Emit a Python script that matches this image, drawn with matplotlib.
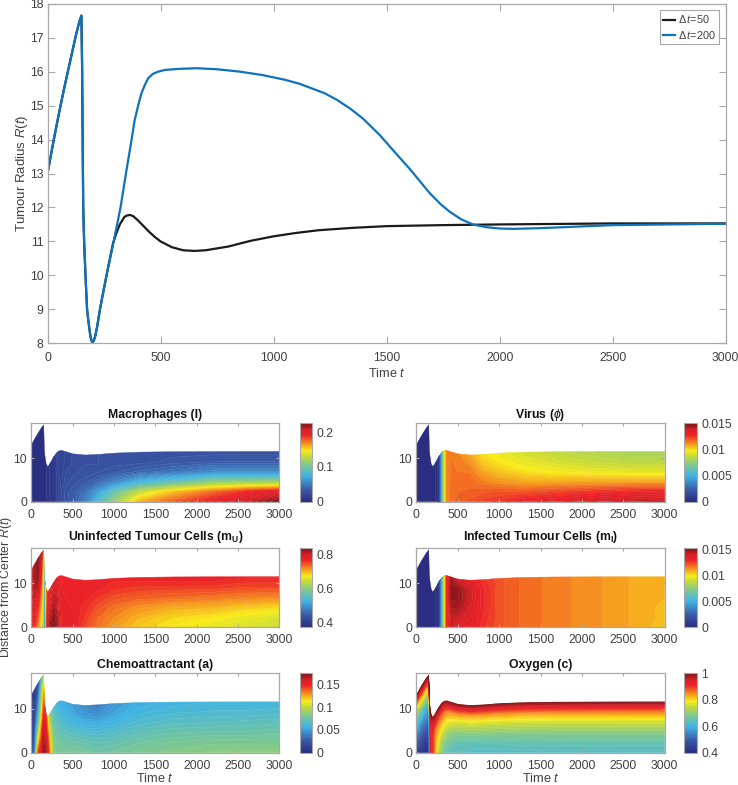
import numpy as np
import matplotlib
matplotlib.use("Agg")
import matplotlib.pyplot as plt
from matplotlib.cm import ScalarMappable
from matplotlib.colors import LinearSegmentedColormap, Normalize

plt.rcParams["font.family"] = ["Liberation Sans", "DejaVu Sans"]
plt.rcParams["mathtext.fontset"] = "custom"
plt.rcParams["mathtext.rm"] = "Liberation Sans"
plt.rcParams["mathtext.it"] = "Liberation Sans:italic"
plt.rcParams["mathtext.bf"] = "Liberation Sans:bold"

# radius curves
t_black = [0, 25, 50, 75, 100, 125, 140, 150, 153, 156, 158, 162, 168, 175, 180, 184, 190, 195, 199, 204, 210, 220, 232, 261, 290,
           305, 320, 340, 350, 365, 380, 400, 425, 450, 475, 500, 550, 600, 650, 700, 800, 900, 1000, 1100, 1200, 1350, 1500, 1750, 2000, 2500, 3000]
r_black = [13.0, 13.9, 14.75, 15.55, 16.3, 17.05, 17.45, 17.65, 16.2, 13.6, 12.0, 11.0, 10.0, 9.0, 8.7, 8.5, 8.2, 8.07, 8.03, 8.07, 8.18, 8.5, 9.0, 10.0, 10.95,
           11.25, 11.5, 11.72, 11.76, 11.78, 11.74, 11.62, 11.45, 11.28, 11.13, 11.0, 10.83, 10.74, 10.72, 10.74, 10.85, 11.02, 11.15, 11.25, 11.33, 11.4, 11.45, 11.48, 11.5, 11.53, 11.53]
t_blue = [0, 25, 50, 75, 100, 125, 140, 150, 153, 156, 158, 162, 168, 175, 180, 184, 190, 195, 199, 204, 210, 220, 232, 261, 293,
          323, 347, 372, 385, 401, 415, 430, 445, 465, 490, 520, 580, 660, 750, 850, 950, 1050, 1116, 1227, 1280, 1337, 1395, 1470, 1540, 1603, 1691, 1740, 1780, 1830, 1882, 1940, 2001, 2060, 2178, 2500, 3000]
r_blue = [13.0, 13.9, 14.75, 15.55, 16.3, 17.05, 17.45, 17.65, 16.2, 13.6, 12.0, 11.0, 10.0, 9.0, 8.7, 8.5, 8.2, 8.07, 8.03, 8.07, 8.18, 8.5, 9.0, 10.0, 11.0,
          12.0, 13.0, 14.0, 14.55, 15.0, 15.35, 15.6, 15.8, 15.93, 16.0, 16.05, 16.08, 16.1, 16.07, 16.0, 15.9, 15.76, 15.64, 15.36, 15.17, 14.92, 14.62, 14.13, 13.6, 13.13, 12.42, 12.09, 11.87, 11.65, 11.5, 11.42, 11.38, 11.37, 11.39, 11.48, 11.52]

# heat map nodes: time and fraction of R(t)
t_grid = [0, 40, 80, 120, 150, 158, 165, 180, 200, 230, 270, 310, 340, 370, 420, 500, 650, 800, 1000, 1300, 1700, 2200, 2600, 3000]
s_grid = [0, 0.2, 0.4, 0.6, 0.8, 1.0]

macro = [[.002] * 6, [.002] * 6, [.002] * 6, [.002] * 6, [.003] * 6, [.003] * 6, [.003] * 6, [.003] * 6,
         [.005] * 6, [.008] * 6, [.01] * 6, [.015] * 6, [.02] * 6,
         [.025, .025, .022, .02, .02, .02],
         [.03, .03, .027, .025, .022, .022],
         [.036, .034, .03, .027, .025, .025],
         [.052, .045, .035, .03, .028, .028],
         [.08, .065, .042, .032, .028, .028],
         [.115, .095, .055, .035, .03, .03],
         [.16, .13, .075, .04, .03, .03],
         [.178, .155, .09, .045, .033, .03],
         [.197, .175, .11, .055, .035, .03],
         [.208, .19, .113, .055, .035, .03],
         [.225, .2, .115, .055, .035, .03]]

virus = [[0] * 6, [0] * 6, [0] * 6, [0] * 6, [0] * 6, [0] * 6, [0] * 6, [0] * 6, [0] * 6, [0] * 6,
         [.0003] * 6, [.005] * 6, [.0095] * 6,
         [.0113] * 6,
         [.0116, .0116, .0115, .0115, .0115, .0114],
         [.0118, .0117, .0116, .0115, .0114, .0113],
         [.012, .0118, .0116, .0115, .0112, .0108],
         [.0123, .0119, .0114, .0109, .0103, .0099],
         [.0125, .012, .0111, .0104, .0098, .0095],
         [.013, .012, .0108, .0099, .0094, .009],
         [.0133, .0122, .0108, .0096, .009, .0085],
         [.0137, .0125, .0108, .0094, .0086, .0082],
         [.014, .0127, .0108, .0093, .0084, .008],
         [.0142, .0128, .0108, .0093, .0084, .008]]

m_u = [[.76, .765, .775, .785, .79, .80],
       [.76, .78, .80, .81, .82, .82],
       [.72, .75, .78, .81, .825, .83],
       [.67, .69, .72, .75, .78, .80],
       [.60, .61, .62, .63, .65, .68],
       [.42, .43, .44, .46, .5, .55],
       [.40, .41, .42, .45, .5, .55],
       [.72, .72, .71, .70, .70, .70],
       [.80, .79, .78, .77, .76, .76],
       [.825, .815, .805, .795, .785, .78],
       [.835, .83, .82, .81, .80, .79],
       [.82, .815, .805, .80, .79, .785],
       [.795, .79, .785, .78, .778, .775],
       [.775, .775, .775, .775, .77, .77],
       [.775, .775, .775, .77, .77, .765],
       [.775, .775, .77, .77, .765, .765],
       [.75, .755, .76, .765, .765, .765],
       [.73, .735, .745, .755, .765, .765],
       [.71, .72, .73, .745, .76, .765],
       [.69, .70, .715, .74, .755, .77],
       [.675, .685, .705, .735, .755, .77],
       [.665, .675, .70, .73, .755, .77],
       [.655, .665, .69, .725, .75, .765],
       [.645, .655, .685, .72, .75, .765]]

m_i = [[0] * 6, [0] * 6, [0] * 6, [0] * 6, [0] * 6, [0] * 6, [0] * 6, [0] * 6, [0] * 6, [0] * 6,
       [.0003] * 6, [.005] * 6, [.0095] * 6,
       [.013] * 6,
       [.014, .0142, .0145, .0148, .0148, .0145],
       [.0135, .014, .0146, .0148, .0148, .014],
       [.0133, .0135, .0138, .014, .014, .0135],
       [.0127, .0128, .0129, .0129, .0129, .0127],
       [.0122] * 6,
       [.0118] * 6,
       [.0115] * 6,
       [.0112] * 6,
       [.0109] * 6,
       [.0105, .0106, .0106, .0107, .0108, .0108]]

chemo = [[.004, .004, .003, .003, .002, .002],
         [.04, .03, .022, .016, .011, .008],
         [.14, .105, .075, .05, .032, .02],
         [.158, .14, .12, .10, .085, .06],
         [.172, .165, .155, .14, .125, .10],
         [.172, .165, .155, .145, .135, .125],
         [.17, .165, .16, .155, .15, .145],
         [.16, .158, .155, .15, .145, .14],
         [.152, .148, .142, .132, .122, .112],
         [.118, .112, .105, .097, .09, .08],
         [.085, .083, .08, .075, .07, .065],
         [.08, .078, .074, .07, .064, .058],
         [.08, .077, .072, .067, .061, .056],
         [.08, .076, .07, .064, .059, .055],
         [.08, .075, .069, .062, .057, .053],
         [.08, .075, .068, .06, .054, .05],
         [.078, .073, .066, .056, .048, .042],
         [.075, .071, .064, .056, .045, .038],
         [.077, .072, .066, .059, .052, .048],
         [.08, .076, .07, .064, .059, .055],
         [.083, .079, .073, .067, .062, .058],
         [.085, .081, .074, .068, .063, .06],
         [.085, .081, .074, .069, .063, .06],
         [.085, .081, .075, .07, .064, .06]]

oxygen = [[.42, .50, .58, .68, .81, 1.0],
          [.42, .48, .56, .65, .80, 1.0],
          [.41, .45, .53, .63, .79, 1.0],
          [.41, .44, .51, .60, .77, 1.0],
          [.41, .43, .49, .58, .76, 1.0],
          [.60, .62, .65, .70, .80, 1.0],
          [.90, .90, .90, .91, .93, 1.0],
          [.92, .92, .92, .92, .95, 1.0],
          [.90, .90, .90, .91, .94, 1.0],
          [.82, .83, .84, .86, .92, 1.0],
          [.74, .76, .80, .84, .90, 1.0],
          [.69, .71, .76, .82, .88, 1.0],
          [.66, .69, .74, .80, .87, 1.0],
          [.65, .67, .72, .78, .86, 1.0],
          [.64, .66, .70, .77, .85, 1.0],
          [.635, .645, .69, .755, .85, 1.0],
          [.63, .645, .69, .755, .85, 1.0],
          [.63, .645, .69, .755, .85, 1.0],
          [.63, .645, .69, .755, .85, 1.0],
          [.63, .65, .69, .755, .85, 1.0],
          [.63, .65, .69, .755, .85, 1.0],
          [.63, .65, .69, .755, .85, 1.0],
          [.63, .65, .69, .755, .85, 1.0],
          [.63, .65, .69, .755, .85, 1.0]]

panels = [
    ("Macrophages (l)", macro, 0, 0.225, [0, 0.1, 0.2], ["0", "0.1", "0.2"]),
    (r"Virus ($\phi$)", virus, 0, 0.015, [0, 0.005, 0.01, 0.015], ["0", "0.005", "0.01", "0.015"]),
    (r"Uninfected Tumour Cells (m$_{\mathbf{U}}$)", m_u, 0.373, 0.836, [0.4, 0.6, 0.8], ["0.4", "0.6", "0.8"]),
    (r"Infected Tumour Cells (m$_{\mathbf{I}}$)", m_i, 0, 0.0152, [0, 0.005, 0.01, 0.015], ["0", "0.005", "0.01", "0.015"]),
    ("Chemoattractant (a)", chemo, 0, 0.174, [0, 0.05, 0.1, 0.15], ["0", "0.05", "0.1", "0.15"]),
    ("Oxygen (c)", oxygen, 0.4, 1.0, [0.4, 0.6, 0.8, 1.0], ["0.4", "0.6", "0.8", "1"]),
]

W, H = 738, 785
GRAY = "#a8a8a8"
TXT = "#404040"
cmap = LinearSegmentedColormap.from_list("cb", [
    (0.0, "#2a2d80"), (0.15, "#3a57a6"), (0.33, "#41b4e6"), (0.47, "#7fc98e"),
    (0.58, "#c5da3a"), (0.65, "#f8ec1c"), (0.75, "#f58a1f"), (0.85, "#ec2227"), (0.92, "#d81f26"), (1.0, "#7a1416")])


def px_axes(fig, left, top, right, bottom):
    return fig.add_axes([left / W, 1 - bottom / H, (right - left) / W, (bottom - top) / H])


def style(ax, size, xpad):
    for sp in ax.spines.values():
        sp.set_color(GRAY)
        sp.set_linewidth(0.9)
    ax.tick_params(which="both", direction="in", top=True, right=True, color=GRAY,
                   length=size, width=0.8, labelcolor=TXT, labelsize=8.8, pad=3)
    ax.tick_params(axis="x", pad=xpad)


fig = plt.figure(figsize=(W / 100, H / 100), dpi=100)

ax = px_axes(fig, 47.5, 3.7, 725.7, 343.3)
ax.plot(t_black, r_black, color="#1a1a1a", lw=1.6, label=r"$\Delta\,t$=50")
ax.plot(t_blue, r_blue, color="#0f72bd", lw=1.6, label=r"$\Delta\,t$=200")
ax.set_xlim(0, 3000)
ax.set_ylim(8, 18)
ax.set_xticks(range(0, 3001, 500))
ax.set_yticks(range(8, 19))
style(ax, 5, 6.5)
ax.set_xlabel(r"Time $\mathit{t}$", color=TXT, fontsize=9.2, labelpad=2)
ax.set_ylabel(r"Tumour Radius $\mathit{R(t)}$", color=TXT, fontsize=9.5, labelpad=-0.5)
leg = ax.legend(loc="upper right", fontsize=7.8, frameon=True, fancybox=False, edgecolor=GRAY, framealpha=1,
                borderpad=0.3, labelspacing=0.3, handlelength=1.1, handletextpad=0.3, borderaxespad=0.6,
                labelcolor=TXT)
leg.get_frame().set_linewidth(0.8)

lefts = [(31.3, 279.3, 300, 312), (416.3, 664.7, 684.3, 697.3)]
rows = [(423.3, 501.7), (548.3, 627.3), (673.3, 752.7)]
tt = np.array(t_grid, dtype=float)
rr = np.interp(tt, t_black, r_black)
ss = np.array(s_grid)
X = np.tile(tt[:, None], (1, len(ss)))
Y = rr[:, None] * ss[None, :]

for i, (title, vals, vmin, vmax, cticks, clabels) in enumerate(panels):
    x0, x1, c0, c1 = lefts[i % 2]
    y0, y1 = rows[i // 2]
    ax = px_axes(fig, x0, y0, x1, y1)
    # contourf blends in data space, so bands follow the colour bar
    levels = np.linspace(vmin, vmax, 65)
    cs = ax.contourf(X, Y, np.array(vals, dtype=float), levels=levels, cmap=cmap, extend="both", antialiased=True)
    cs.set_edgecolor("face")
    cs.set_linewidth(0.3)
    ax.set_xlim(0, 3000)
    ax.set_ylim(0, 18)
    ax.set_xticks(range(0, 3001, 500))
    ax.set_yticks([0, 10])
    style(ax, 2.5, 5)
    # the subscript titles of the middle row sit a little higher
    ax.set_title(title, fontsize=8.8, fontweight="bold", color="#111111", pad=6 if i // 2 == 1 else 4)
    if i >= 4:
        ax.set_xlabel(r"Time $\mathit{t}$", color=TXT, fontsize=9.2, labelpad=0.5)
    cax = px_axes(fig, c0, y0, c1, y1)
    cb = fig.colorbar(ScalarMappable(norm=Normalize(vmin, vmax), cmap=cmap), cax=cax)
    cb.set_ticks(cticks)
    cb.set_ticklabels(clabels)
    cb.ax.tick_params(length=0, labelsize=8.8, labelcolor=TXT, pad=3)
    cb.outline.set_edgecolor(GRAY)
    cb.outline.set_linewidth(0.8)

fig.text(6.5 / W, 1 - 587 / H, r"Distance from Center $\mathit{R(t)}$", rotation=90, color=TXT,
         fontsize=8.9, ha="center", va="center")

fig.savefig("out.png", dpi=100)
